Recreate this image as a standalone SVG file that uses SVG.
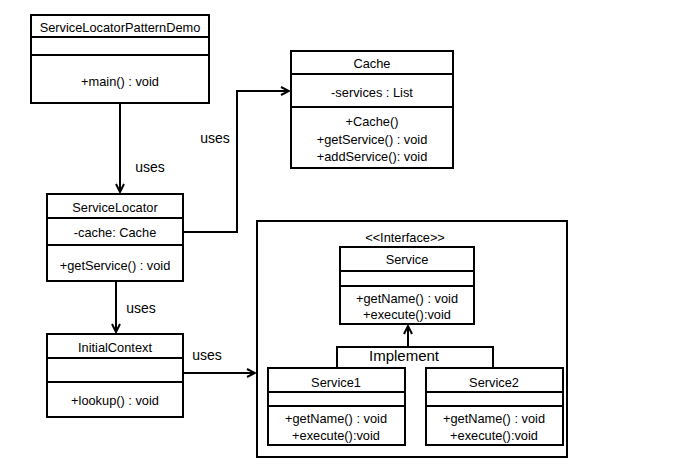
<svg xmlns="http://www.w3.org/2000/svg" width="678" height="473" viewBox="0 0 678 473">
  <defs>
    <marker id="arrow" viewBox="0 0 10 10" refX="9" refY="5" markerWidth="5" markerHeight="5" orient="auto" markerUnits="strokeWidth">
      <polyline points="1,1 9,5 1,9" fill="none" stroke="#000" stroke-width="2"/>
    </marker>
  </defs>
  <style>
    .box { fill: #fff; stroke: #000; stroke-width: 2; }
    .div { stroke: #000; stroke-width: 2; }
    .t { font-family: "Liberation Sans", Arial, sans-serif; font-size: 12.8px; fill: #000; text-anchor: middle; dominant-baseline: central; }
    .lbl { font-family: "Liberation Sans", Arial, sans-serif; font-size: 14px; fill: #000; text-anchor: middle; dominant-baseline: central; }
    .conn { fill: none; stroke: #000; stroke-width: 2; }
  </style>
  <rect width="678" height="473" fill="#fff"/>

  <!-- container for the Service hierarchy -->
  <g id="service-group">
    <rect class="box" x="257" y="221" width="310" height="236"/>
    <text class="t" x="405" y="237">&lt;&lt;Interface&gt;&gt;</text>
  </g>

  <g id="connectors">
    <line class="conn" x1="120" y1="103" x2="120" y2="192" marker-end="url(#arrow)"/>
    <polyline class="conn" points="183,232 237,232 237,91 289,91" marker-end="url(#arrow)"/>
    <line class="conn" x1="116" y1="281" x2="116" y2="332" marker-end="url(#arrow)"/>
    <line class="conn" x1="183" y1="373" x2="255" y2="373" marker-end="url(#arrow)"/>
    <line class="conn" x1="408" y1="347" x2="408" y2="326" marker-end="url(#arrow)"/>
    <polyline class="conn" points="337,368 337,347 493,347 493,368"/>
    <text class="lbl" x="150" y="167">uses</text>
    <text class="lbl" x="215" y="138">uses</text>
    <text class="lbl" x="141" y="308">uses</text>
    <text class="lbl" x="207" y="355">uses</text>
    <text class="lbl" x="404" y="355" style="font-size:15px">Implement</text>
  </g>

  <g id="ServiceLocatorPatternDemo">
    <rect class="box" x="31" y="15" width="178" height="88"/>
    <line class="div" x1="31" y1="37" x2="209" y2="37"/>
    <line class="div" x1="31" y1="55" x2="209" y2="55"/>
    <text class="t" x="120" y="27">ServiceLocatorPatternDemo</text>
    <text class="t" x="120" y="81">+main()  : void</text>
  </g>

  <g id="Cache">
    <rect class="box" x="291" y="51" width="162" height="117"/>
    <line class="div" x1="291" y1="74" x2="453" y2="74"/>
    <line class="div" x1="291" y1="107" x2="453" y2="107"/>
    <text class="t" x="372" y="63">Cache</text>
    <text class="t" x="372" y="92">-services  : List</text>
    <text class="t" x="372" y="121">+Cache()</text>
    <text class="t" x="372" y="139">+getService()  : void</text>
    <text class="t" x="372" y="156">+addService():  void</text>
  </g>

  <g id="ServiceLocator">
    <rect class="box" x="47" y="194" width="136" height="87"/>
    <line class="div" x1="47" y1="218" x2="183" y2="218"/>
    <line class="div" x1="47" y1="245" x2="183" y2="245"/>
    <text class="t" x="115" y="207">ServiceLocator</text>
    <text class="t" x="115" y="232">-cache: Cache</text>
    <text class="t" x="115" y="265">+getService()  : void</text>
  </g>

  <g id="InitialContext">
    <rect class="box" x="47" y="334" width="136" height="83"/>
    <line class="div" x1="47" y1="358" x2="183" y2="358"/>
    <line class="div" x1="47" y1="382" x2="183" y2="382"/>
    <text class="t" x="115" y="347">InitialContext</text>
    <text class="t" x="115" y="400">+lookup()  : void</text>
  </g>

  <g id="Service">
    <rect class="box" x="340" y="247" width="134" height="77"/>
    <line class="div" x1="340" y1="271" x2="474" y2="271"/>
    <line class="div" x1="340" y1="286" x2="474" y2="286"/>
    <text class="t" x="407" y="259">Service</text>
    <text class="t" x="407" y="298">+getName()  : void</text>
    <text class="t" x="407" y="314">+execute():void</text>
  </g>

  <g id="Service1">
    <rect class="box" x="268" y="368" width="137" height="77"/>
    <line class="div" x1="268" y1="392" x2="405" y2="392"/>
    <line class="div" x1="268" y1="406" x2="405" y2="406"/>
    <text class="t" x="336" y="382">Service1</text>
    <text class="t" x="336" y="418">+getName()  : void</text>
    <text class="t" x="336" y="435">+execute():void</text>
  </g>

  <g id="Service2">
    <rect class="box" x="426" y="368" width="137" height="77"/>
    <line class="div" x1="426" y1="392" x2="563" y2="392"/>
    <line class="div" x1="426" y1="406" x2="563" y2="406"/>
    <text class="t" x="494" y="382">Service2</text>
    <text class="t" x="494" y="418">+getName()  : void</text>
    <text class="t" x="494" y="435">+execute():void</text>
  </g>
</svg>
